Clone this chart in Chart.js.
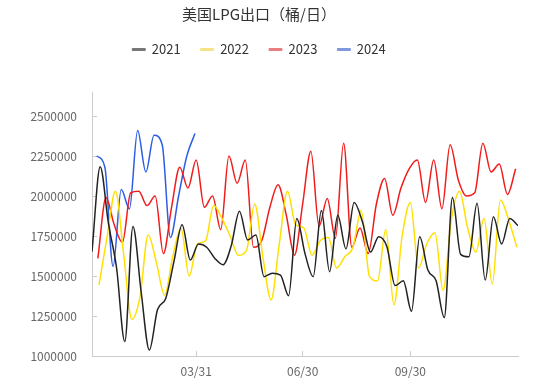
<!DOCTYPE html>
<html><head><meta charset="utf-8">
<script src="https://cdn.jsdelivr.net/npm/chart.js@4"></script>
<style>html,body{margin:0;padding:0;background:#fff}</style>
</head><body>
<canvas id="c" width="550" height="385"></canvas>
<script>
// ---- data ----
const seriesNames = ['2021', '2022', '2023', '2024'];
const firstWeekDay = [0, 6, 5, 4]; // day of year of first weekly report
const v2021 = [1652000,2183000,1830000,1550000,1090000,1810000,1400000,1037000,1290000,1360000,
  1590000,1820000,1600000,1700000,1680000,1610000,1570000,1690000,1905000,1725000,
  1756000,1496000,1517000,1506000,1377000,1860000,1640000,1496000,1910000,1527000,
  1880000,1670000,1960000,1840000,1650000,1746000,1683000,1440000,1470000,1280000,
  1746000,1537000,1470000,1240000,1990000,1635000,1620000,1954000,1475000,1870000,
  1700000,1860000,1815000];
const v2022 = [1444000,1750000,2030000,1640000,1230000,1370000,1756000,1585000,1380000,1620000,
  1800000,1500000,1700000,1720000,1940000,1860000,1750000,1630000,1660000,1950000,
  1620000,1350000,1700000,2030000,1820000,1800000,1630000,1720000,1740000,1550000,
  1620000,1680000,1910000,1500000,1470000,1790000,1320000,1750000,1960000,1550000,
  1700000,1770000,1410000,1850000,2030000,1800000,1650000,1860000,1450000,1975000,
  1850000,1680000];
const v2023 = [1610000,1990000,1820000,1710000,2020000,2030000,1940000,2000000,1640000,1930000,
  2180000,2050000,2225000,1930000,2000000,1790000,2250000,2080000,2225000,1680000,
  1720000,1930000,2070000,1880000,1630000,1950000,2280000,1810000,1985000,1735000,
  2330000,1680000,1800000,1640000,1950000,2110000,1880000,2050000,2170000,2225000,
  1960000,2225000,1920000,2320000,2100000,2000000,2020000,2330000,2150000,2200000,
  2010000,2170000];
const v2024 = [2250000,2180000,1560000,2040000,1920000,2410000,2150000,2380000,2320000,1740000,
  2000000,2250000,2390000];
const xTickDays = [89, 180, 272];
const xTickLabels = ['03/31', '06/30', '09/30'];
const yTickValues = [1000000, 1250000, 1500000, 1750000, 2000000, 2250000, 2500000];

// ---- styles ----
const colors = ['#222222', '#FFE000', '#F01C1C', '#2C5DE5'];
const legendColors = ['#777777', '#F5E38A', '#E88080', '#8098DD'];
const F = '"Noto Sans CJK SC", "Noto Sans", sans-serif';
const allValues = [v2021, v2022, v2023, v2024];

const datasets = allValues.map((vals, s) => ({
  label: seriesNames[s],
  data: vals.map((v, i) => ({ x: firstWeekDay[s] + 7 * i, y: v })),
  borderColor: colors[s],
  backgroundColor: colors[s],
  borderWidth: 1.5,
  pointRadius: 0,
  cubicInterpolationMode: 'monotone',
  fill: false
}));

const legendGap = {
  id: 'legendGap',
  beforeLayout(chart) {
    const l = chart.legend;
    if (l && !l._patched) {
      const f = l.fit;
      l.fit = function () { f.call(this); this.height += 26; };
      l._patched = true;
    }
  }
};

new Chart(document.getElementById('c'), {
  type: 'line',
  data: { datasets },
  plugins: [legendGap],
  options: {
    responsive: false,
    animation: false,
    devicePixelRatio: 1,
    layout: { padding: { left: 0, right: 32, top: 0, bottom: 0 } },
    plugins: {
      title: {
        display: true, text: '美国LPG出口（桶/日）', color: '#333',
        font: { family: F, size: 15, weight: 'normal' },
        padding: { top: 5, bottom: 0 }
      },
      legend: {
        labels: {
          boxWidth: 13, boxHeight: 2, padding: 20, color: '#333',
          font: { family: F, size: 13 },
          generateLabels(chart) {
            return chart.data.datasets.map((d, i) => ({
              text: d.label, fillStyle: legendColors[i], strokeStyle: legendColors[i],
              lineWidth: 1, hidden: false, datasetIndex: i, fontColor: '#333'
            }));
          }
        }
      },
      tooltip: { enabled: false }
    },
    scales: {
      x: {
        type: 'linear', min: 0, max: 364,
        afterBuildTicks: s => { s.ticks = xTickDays.map(v => ({ value: v })); },
        afterFit: s => { s.height = 29; },
        ticks: {
          callback: v => xTickLabels[xTickDays.indexOf(v)] || '',
          color: '#666', font: { family: F, size: 12 }, padding: 13,
          maxRotation: 0, autoSkip: false
        },
        grid: { drawOnChartArea: false, tickLength: -5, color: '#ccc' },
        border: { color: '#ccc' }
      },
      y: {
        min: 1000000, max: 2650000,
        afterBuildTicks: s => { s.ticks = yTickValues.map(v => ({ value: v })); },
        afterFit: s => { s.width = 92; },
        ticks: {
          callback: v => String(v),
          color: '#666', font: { family: F, size: 12 }, padding: 20
        },
        grid: { drawOnChartArea: false, tickLength: -5, color: '#ccc' },
        border: { color: '#ccc' }
      }
    }
  }
});
</script>
</body></html>
